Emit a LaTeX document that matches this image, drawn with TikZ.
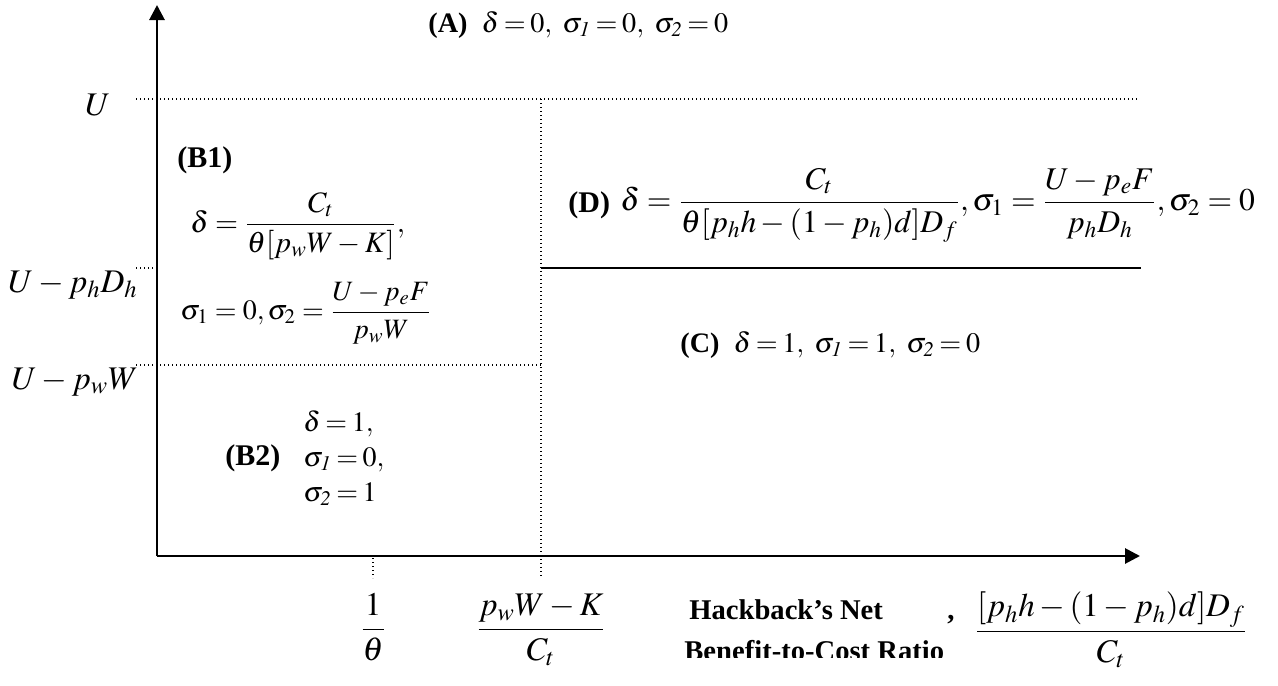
\documentclass[tikz,border=0pt]{standalone}
\usepackage{amsmath}
\usepackage{mathptmx}
\usepackage[no-math]{fontspec}
\setmainfont{Liberation Serif}
\usetikzlibrary{arrows.meta}
\newcommand\tightrel{\thickmuskip=3mu\relax}
\newcommand\midrel{\thickmuskip=4mu\relax}
\tikzset{
  axis/.style={line width=1.4pt,-{Triangle[length=7.5pt,width=7.5pt]}},
  guide/.style={line width=0.6pt,dash pattern=on 0.7pt off 1.3pt},
  bound/.style={line width=1pt},
  txt/.style={inner sep=0pt,font=\fontsize{14.1}{17}\selectfont},
  lbl/.style={inner sep=0pt,font=\fontsize{15}{18}\selectfont\bfseries},
  big/.style={inner sep=0pt,font=\fontsize{16.5}{19}\selectfont},
  eqn/.style={inner sep=0pt,font=\fontsize{14.8}{18}\selectfont},
  axt/.style={inner sep=0pt,font=\fontsize{14.3}{17}\selectfont\bfseries},
}
\begin{document}
\begin{tikzpicture}[x=0.5pt,y=-0.5pt]
\useasboundingbox (0,0) rectangle (1278,685);
% coordinates
\coordinate (O) at (157,556);
\coordinate (Ytop) at (157,5);
\coordinate (Xend) at (1140,556);
\coordinate (Ul) at (136,99);
\coordinate (Ur) at (1139,99);
\coordinate (Dl) at (136,268);
\coordinate (Dr) at (157,268);
\coordinate (Wl) at (136,365);
\coordinate (Wr) at (541,365);
\coordinate (Vt) at (541,99);
\coordinate (Vb) at (541,578);
\coordinate (Tt) at (373,558);
\coordinate (Tb) at (373,578);
\coordinate (Sl) at (541,268);
\coordinate (Sr) at (1141,268);
% guides
\draw[guide] (Ul) -- (Ur);
\draw[guide] (Dl) -- (Dr);
\draw[guide] (Wl) -- (Wr);
\draw[guide] (Vt) -- (Vb);
\draw[guide] (Tt) -- (Tb);
\draw[bound] (Sl) -- (Sr);
% axes
\draw[axis] (O) -- (Ytop);
\draw[axis] (O) -- (Xend);
% axis labels
\node[big,anchor=base] (lU) at (98,115) {$U$};
\node[big,anchor=base] (lD) at (73,292) {$U-p_hD_h$};
\node[big,anchor=base] (lW) at (75,389) {$U-p_wW$};
\node[big] (xT) at (373,627) {$\dfrac{1}{\theta}$};
\node[big] (xK) at (541,630) {$\dfrac{p_wW-K}{C_t}$};
\node[axt,anchor=base west] (xlab1) at (689,619) {Hackback’s Net};
\begin{scope}
\clip (600,580) rectangle (975,657);
\node[axt,anchor=base west] (xlab2) at (684,660) {Benefit-to-Cost Ratio};
\end{scope}
\node[axt,anchor=base] (comma) at (951,619) {,};
\node[big] (xR) at (1111,630) {$\dfrac{[p_hh-(1-p_h)d]D_f}{C_t}$};
% regions
\node[txt,anchor=west] (A) at (428,25) {\textbf{(A)}\ \ $\tightrel\delta = 0,\ \sigma_{\mathit{1}} = 0,\ \sigma_{\mathit{2}} = 0$};
\node[lbl,anchor=north west] (B1) at (177,146) {(B1)};
\node[eqn,anchor=west] (B1a) at (190,226) {$\delta = \dfrac{C_t}{\theta[p_wW-K]},$};
\node[eqn,anchor=west,font=\fontsize{14}{17}\selectfont] (B1b) at (180,313) {$\midrel\sigma_1 = 0, \sigma_2 = \dfrac{U-p_eF}{p_wW}$};
\node[lbl,anchor=west] (B2) at (225,458) {(B2)};
\node[txt,anchor=west,align=left,font=\fontsize{14}{17.5}\selectfont] (B2m) at (303,458) {$\tightrel\delta = 1,$\\$\tightrel\sigma_{\mathit{1}} = 0,$\\$\tightrel\sigma_{\mathit{2}} = 1$};
\node[lbl,anchor=west] (Dl) at (568,205) {(D)};
\node[big,anchor=west,font=\fontsize{15.8}{18}\selectfont] (D) at (620,205) {$\delta = \dfrac{C_t}{\theta[p_hh-(1-p_h)d]D_f}, \sigma_1 = \dfrac{U-p_eF}{p_hD_h}, \sigma_2 = 0$};
\node[txt,anchor=west] (C) at (680,345) {\textbf{(C)}\ \ $\tightrel\delta = 1,\ \sigma_{\mathit{1}} = 1,\ \sigma_{\mathit{2}} = 0$};
\end{tikzpicture}
\end{document}
